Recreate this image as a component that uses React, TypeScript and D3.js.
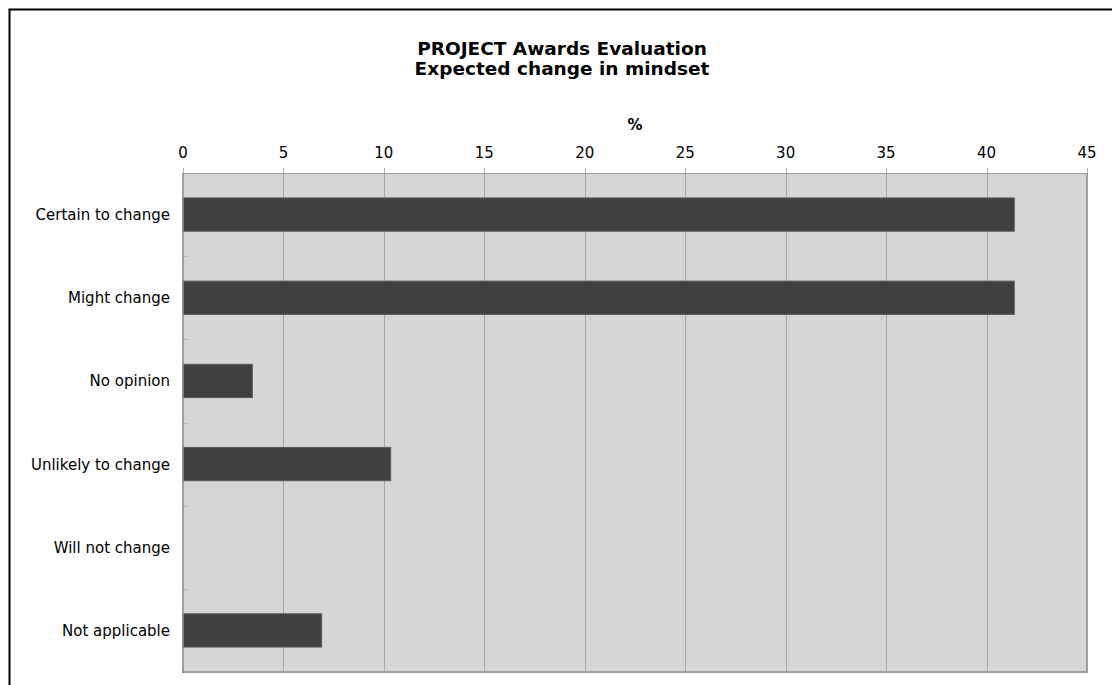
import React, { useEffect, useRef } from "react";
import * as d3 from "d3";

const categories = [
  "Certain to change",
  "Might change",
  "No opinion",
  "Unlikely to change",
  "Will not change",
  "Not applicable",
];
const values = [41.38, 41.38, 3.45, 10.34, 0, 6.9];
const xTicks = [0, 5, 10, 15, 20, 25, 30, 35, 40, 45];
const titleLines = ["PROJECT Awards Evaluation", "Expected change in mindset"];
const axisTitle = "%";

const W = 1112;
const H = 685;
const FONT = "Verdana, 'DejaVu Sans', sans-serif";

export default function App() {
  const ref = useRef<SVGSVGElement>(null);

  useEffect(() => {
    const svg = d3.select(ref.current);
    svg.selectAll("*").remove();

    const left = 183, right = 1087, top = 173, bottom = 672;

    const x = d3.scaleLinear().domain([0, 45]).range([left, right]);
    const y = d3
      .scaleBand<string>()
      .domain(categories)
      .range([top, bottom])
      .paddingInner(0.6)
      .paddingOuter(0.3);

    // outer border
    svg
      .append("rect")
      .attr("x", 9.5)
      .attr("y", 9.5)
      .attr("width", W + 50)
      .attr("height", H + 50)
      .attr("fill", "#fff")
      .attr("stroke", "#000")
      .attr("stroke-width", 2);

    // plot background
    svg
      .append("rect")
      .attr("x", left)
      .attr("y", top)
      .attr("width", right - left)
      .attr("height", bottom - top)
      .attr("fill", "#d6d6d6");

    // grid lines
    svg
      .append("g")
      .selectAll("line")
      .data(xTicks.slice(1, -1))
      .join("line")
      .attr("x1", (d) => Math.round(x(d)) + 0.5)
      .attr("x2", (d) => Math.round(x(d)) + 0.5)
      .attr("y1", top)
      .attr("y2", bottom)
      .attr("stroke", "#a8a8a8")
      .attr("stroke-width", 1);

    // top tick marks
    svg
      .append("g")
      .selectAll("line")
      .data(xTicks)
      .join("line")
      .attr("x1", (d) => Math.round(x(d)) + 0.5)
      .attr("x2", (d) => Math.round(x(d)) + 0.5)
      .attr("y1", top - 5)
      .attr("y2", top)
      .attr("stroke", "#b0b0b0")
      .attr("stroke-width", 1);

    // category separator ticks
    const step = y.step();
    const seps = d3.range(1, categories.length).map((i) => top + i * step);
    svg
      .append("g")
      .selectAll("line")
      .data(seps)
      .join("line")
      .attr("x1", left)
      .attr("x2", left + 5)
      .attr("y1", (d) => Math.round(d) + 0.5)
      .attr("y2", (d) => Math.round(d) + 0.5)
      .attr("stroke", "#b8b8b8")
      .attr("stroke-width", 1);

    // bars
    svg
      .append("g")
      .selectAll("rect")
      .data(values.map((v, i) => ({ v, c: categories[i] })).filter((d) => d.v > 0))
      .join("rect")
      .attr("x", x(0))
      .attr("y", (d) => y(d.c)!)
      .attr("width", (d) => x(d.v) - x(0))
      .attr("height", y.bandwidth())
      .attr("fill", "#404040")
      .attr("stroke", "#5a5a5a")
      .attr("stroke-width", 1);

    // plot frame
    svg
      .append("line")
      .attr("x1", left)
      .attr("x2", right)
      .attr("y1", top + 0.5)
      .attr("y2", top + 0.5)
      .attr("stroke", "#a0a0a0");
    svg
      .append("line")
      .attr("x1", right)
      .attr("x2", right)
      .attr("y1", top)
      .attr("y2", bottom + 1)
      .attr("stroke", "#a0a0a0")
      .attr("stroke-width", 2);
    svg
      .append("line")
      .attr("x1", left - 1)
      .attr("x2", right + 1)
      .attr("y1", bottom)
      .attr("y2", bottom)
      .attr("stroke", "#a0a0a0")
      .attr("stroke-width", 2);
    svg
      .append("line")
      .attr("x1", left)
      .attr("x2", left)
      .attr("y1", top)
      .attr("y2", bottom + 1)
      .attr("stroke", "#8a8a8a")
      .attr("stroke-width", 1.5);

    // tick labels
    svg
      .append("g")
      .selectAll("text")
      .data(xTicks)
      .join("text")
      .attr("x", (d) => x(d))
      .attr("y", 158)
      .attr("text-anchor", "middle")
      .attr("font-family", FONT)
      .attr("font-size", 15)
      .attr("fill", "#000")
      .text((d) => String(d));

    // category labels
    svg
      .append("g")
      .selectAll("text")
      .data(categories)
      .join("text")
      .attr("x", 170)
      .attr("y", (d) => y(d)! + y.bandwidth() / 2 + 5.5)
      .attr("text-anchor", "end")
      .attr("font-family", FONT)
      .attr("font-size", 15)
      .attr("fill", "#000")
      .text((d) => d);

    // title
    svg
      .append("g")
      .selectAll("text")
      .data(titleLines)
      .join("text")
      .attr("x", 562)
      .attr("y", (d, i) => 55 + i * 20)
      .attr("text-anchor", "middle")
      .attr("font-family", FONT)
      .attr("font-weight", "bold")
      .attr("font-size", 18.5)
      .attr("fill", "#000")
      .text((d) => d);

    // axis title
    svg
      .append("text")
      .attr("x", (left + right) / 2)
      .attr("y", 130)
      .attr("text-anchor", "middle")
      .attr("font-family", FONT)
      .attr("font-weight", "bold")
      .attr("font-size", 15)
      .attr("fill", "#000")
      .text(axisTitle);
  }, []);

  return (
    <svg
      ref={ref}
      width={W}
      height={H}
      style={{ position: "absolute", left: 0, top: 0, display: "block" }}
    />
  );
}
